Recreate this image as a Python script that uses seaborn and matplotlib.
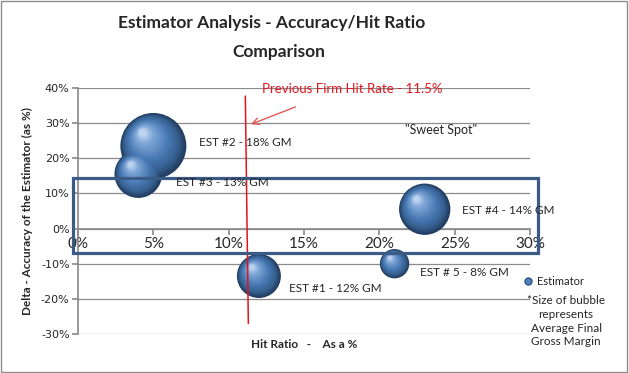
import numpy as np
import pandas as pd
import matplotlib
matplotlib.use("Agg")
import matplotlib.pyplot as plt
import seaborn as sns
from matplotlib.lines import Line2D
from matplotlib.patches import Rectangle
from matplotlib.transforms import offset_copy
from matplotlib.colors import to_rgb

# ==========================================
# 1. data (in %)
# ==========================================
estimators = ["EST #1", "EST #2", "EST #3", "EST #4", "EST # 5"]
hit_ratio = [12, 5, 4, 23, 21]
accuracy = [-13.5, 23.5, 15.5, 5.5, -10]
gross_margin = [12, 18, 13, 14, 8]
point_labels = ["EST #1 - 12% GM", "EST #2 - 18% GM", "EST #3 - 13% GM",
                "EST #4 - 14% GM", "EST # 5 - 8% GM"]
firm_hit_rate = 11.5
x_ticks = [0, 5, 10, 15, 20, 25, 30]
y_ticks = [-30, -20, -10, 0, 10, 20, 30, 40]

df = pd.DataFrame({"estimator": estimators, "hit": hit_ratio,
                   "acc": accuracy, "gm": gross_margin})

# ==========================================
# 2. figure
# ==========================================
sns.set_theme(style="white")
plt.rcParams["font.family"] = ["Lato", "DejaVu Sans"]

fig = plt.figure(figsize=(6.29, 3.73), dpi=100)
ax = fig.add_axes([0.124, 0.1046, 0.719, 0.6595])

# bubble diameter in points proportional to gross margin
diam = df["gm"] * 2.64
sns.scatterplot(data=df, x="hit", y="acc", s=diam ** 2, color="#243f63",
                edgecolor="none", legend=False, ax=ax, zorder=3)

# fake 3D shading: stacked circles moving to upper-left
stops = [(0.0, "#22395a"), (0.15, "#335d8c"), (0.45, "#4a7bb5"),
         (0.8, "#7fa6d6"), (1.0, "#bcd3ef")]
pos = [p for p, _ in stops]
cols = np.array([to_rgb(c) for _, c in stops])
n_layers = 16
for xi, yi, d in zip(df["hit"], df["acc"], diam):
    for k in range(1, n_layers):
        t = k / (n_layers - 1)
        dd = d * (1 - 0.88 * t)
        shift = 0.2 * d * t
        c = [np.interp(t, pos, cols[:, j]) for j in range(3)]
        tr = offset_copy(ax.transData, fig=fig, x=-shift * 0.8, y=shift, units="points")
        ax.scatter([xi], [yi], s=dd ** 2, color=c, edgecolors="none",
                   transform=tr, zorder=3 + t)

# labels next to bubbles
label_offsets = [(2.0, -3.6), (3.0, 1.1), (2.5, -2.4), (2.5, -0.4), (1.7, -2.6)]
for (xi, yi), (dx, dy), lab in zip(zip(df["hit"], df["acc"]), label_offsets, point_labels):
    ax.text(xi + dx, yi + dy, lab, fontsize=8.5, va="center", ha="left", zorder=6)

ax.text(21.7, 28, '"Sweet Spot"', fontsize=9, va="center", ha="left")

# previous firm hit rate line + annotation
ax.plot([firm_hit_rate - 0.4, firm_hit_rate - 0.2], [37.7, -27], color="#e3141b",
        lw=1.1, zorder=4, clip_on=False)
ax.text(firm_hit_rate + 0.7, 39.7, f"Previous Firm Hit Rate - {firm_hit_rate}%",
        color="#e3141b", fontsize=9.5, va="center", ha="left")
ax.annotate("", xy=(11.3, 29.4), xytext=(14.6, 34.9),
            arrowprops=dict(arrowstyle="->", color="#e05a5a", lw=1.0))

# sweet-spot box
ax.add_patch(Rectangle((-0.35, -6.9), 30.85, 21.3, fill=False,
                       edgecolor="#3b5b86", lw=2.3, clip_on=False, zorder=5))

# ==========================================
# 3. axes styling
# ==========================================
ax.set_xlim(0, 30)
ax.set_ylim(-30, 40)
ax.set_xticks(x_ticks)
ax.set_yticks(y_ticks)
ax.set_xticklabels([f"{v}%" for v in x_ticks], family="DejaVu Sans", fontsize=8)
ax.set_yticklabels([f"{v}%" for v in y_ticks], family="DejaVu Sans", fontsize=8)
ax.yaxis.grid(True, color="#8c8c8c", lw=0.9)
ax.xaxis.grid(False)
for s in ["top", "right"]:
    ax.spines[s].set_visible(False)
ax.spines["bottom"].set_position(("data", 0))
ax.spines["bottom"].set_color("#8c8c8c")
ax.spines["left"].set_color("#8c8c8c")
ax.tick_params(axis="both", which="both", length=4, color="#8c8c8c", direction="out",
               bottom=True, left=True, pad=2)

ax.set_ylabel("Delta - Accuracy of the Estimator (as %)", fontsize=8.5,
              fontweight="bold", labelpad=6)
ax.set_xlabel("Hit Ratio   -    As a %", fontsize=8.5, fontweight="bold")
ax.xaxis.set_label_coords(0.5, -0.02)

fig.text(0.432, 0.938, "Estimator Analysis - Accuracy/Hit Ratio",
         ha="center", va="center", fontsize=12.5, fontweight="bold")
fig.text(0.444, 0.86, "Comparison",
         ha="center", va="center", fontsize=12.5, fontweight="bold")

# legend + note
handle = Line2D([], [], marker="o", color="none", markerfacecolor="#4f81bd",
                markeredgecolor="#2d5282", markersize=5)
fig.legend([handle], ["Estimator"], loc="center left", bbox_to_anchor=(0.815, 0.245),
           frameon=False, fontsize=8, handletextpad=0.3, handlelength=1)
fig.text(0.9, 0.139, "*Size of bubble\nrepresents\nAverage Final\nGross Margin",
         ha="center", va="center", fontsize=8.5, linespacing=1.3)

# chart border
fig.add_artist(Rectangle((0.002, 0.003), 0.995, 0.993, transform=fig.transFigure,
                         fill=False, edgecolor="#8c8c8c", lw=1))

fig.savefig("out.png", dpi=100)
